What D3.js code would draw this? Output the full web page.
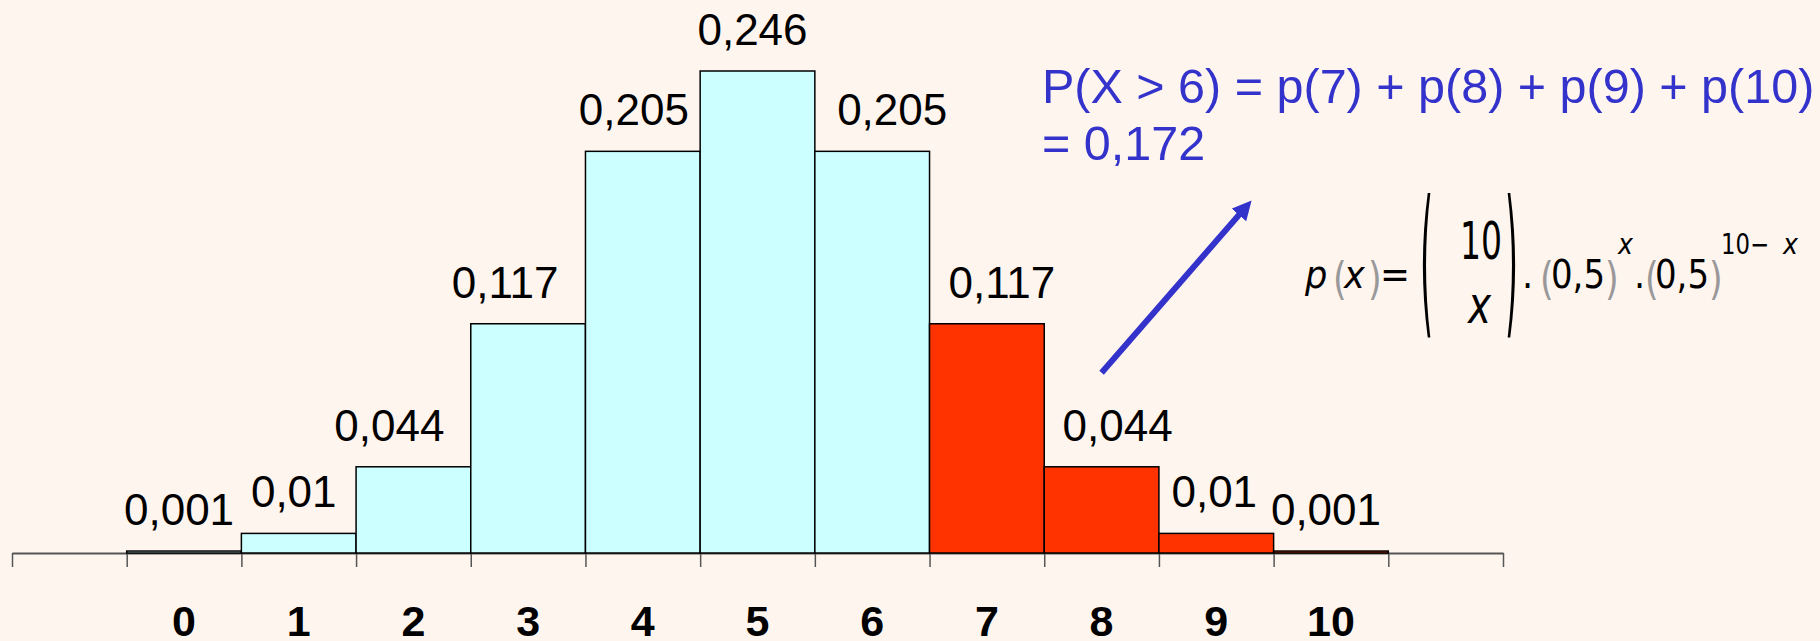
<!DOCTYPE html>
<html>
<head>
<meta charset="UTF-8">
<title>Binomial 10, 0.5</title>
<script src="https://d3js.org/d3.v7.min.js"></script>
<style>
  html, body { margin:0; padding:0; background:#fff5ef; }
  svg { display:block; }
  .val { font-family:"Liberation Sans", Arial, sans-serif; font-size:44px; fill:#000; }
  .cat { font-family:"Liberation Sans", Arial, sans-serif; font-size:43px; font-weight:bold; fill:#000; }
  .blue { font-family:"Liberation Sans", Arial, sans-serif; font-size:48.5px; fill:#3333cc; }
  .fm { font-family:"DejaVu Sans Condensed", "DejaVu Sans", sans-serif; fill:#000; }
  .it { font-style:italic; }
  .thin { fill:#999; }
</style>
</head>
<body>
<div id="chart"></div>
<script>
// data
const xs = [0,1,2,3,4,5,6,7,8,9,10];
const probs = [0.001,0.01,0.044,0.117,0.205,0.246,0.205,0.117,0.044,0.01,0.001];
const labels = ["0,001","0,01","0,044","0,117","0,205","0,246","0,205","0,117","0,044","0,01","0,001"];
const highlight = [7,8,9,10];   // P(X > 6)
const resultLines = ["P(X > 6) = p(7) + p(8) + p(9) + p(10)", "= 0,172"];

const W = 1820, H = 641;
const svg = d3.select('#chart').append('svg').attr('width',W).attr('height',H);

// one slot per value, plus an empty slot each side
const x = d3.scaleLinear().domain([-1,12]).range([12,1503]);
const y = d3.scaleLinear().domain([0,0.246]).range([553,71]);

const axis = d3.axisBottom(x)
  .tickValues(d3.range(-1,13))
  .tickFormat('')
  .tickSizeInner(14)
  .tickSizeOuter(0);

const gAxis = svg.append('g').attr('transform',`translate(0,${y(0)})`).call(axis);
gAxis.select('.domain').attr('stroke','#555').attr('stroke-width',2);
gAxis.selectAll('.tick line').attr('stroke','#555').attr('stroke-width',1.5);

svg.append('g').selectAll('rect')
  .data(xs)
  .enter().append('rect')
  .attr('x', d=>x(d))
  .attr('width', d=>x(d+1)-x(d))
  .attr('y', (d,i)=>y(probs[i]))
  .attr('height', (d,i)=>y(0)-y(probs[i]))
  .attr('fill', d=>highlight.includes(d) ? '#ff3300' : '#ccffff')
  .attr('stroke','#000')
  .attr('stroke-width',1.5);

// labels are not all centred on their bar in the original slide
const labelNudge = [-5,-5,-24,-23,-9,-5,20,15,16,-2,-5];
svg.append('g').selectAll('text')
  .data(xs)
  .enter().append('text')
  .attr('class','val')
  .attr('text-anchor','middle')
  .attr('x', (d,i)=>x(d+0.5)+labelNudge[i])
  .attr('y', (d,i)=>y(probs[i])-26)
  .text((d,i)=>labels[i]);

svg.append('g').selectAll('text')
  .data(xs)
  .enter().append('text')
  .attr('class','cat')
  .attr('text-anchor','middle')
  .attr('x', d=>x(d+0.5))
  .attr('y', 636)
  .text(d=>d);

// blue result text
svg.append('g').selectAll('text')
  .data(resultLines)
  .enter().append('text')
  .attr('class','blue')
  .attr('x',1042)
  .attr('y',(d,i)=>103+i*57)
  .text(d=>d);

// arrow
svg.append('defs').append('marker')
  .attr('id','head')
  .attr('viewBox','0 0 10 10')
  .attr('refX',2).attr('refY',5)
  .attr('markerWidth',3.2).attr('markerHeight',3.2)
  .attr('orient','auto')
  .append('path').attr('d','M0,0L10,5L0,10z').attr('fill','#3333cc');

svg.append('line')
  .attr('x1',x(8.5)).attr('y1',y(0.092))
  .attr('x2',x(9.72)).attr('y2',y(0.174))
  .attr('stroke','#3333cc')
  .attr('stroke-width',6)
  .attr('marker-end','url(#head)');

// formula p(x) = C(10,x) . 0,5^x . 0,5^(10-x)
const f = svg.append('g');
const base = 288, sup = 254;
function piece(t, px, py, size, cls, len){
  const el = f.append('text').attr('class','fm '+(cls||''))
    .attr('x',px).attr('y',py).style('font-size',size+'px').text(t);
  if(len) el.attr('textLength',len).attr('lengthAdjust','spacingAndGlyphs');
  return el;
}
function thinParen(t, px){
  f.append('text').attr('class','fm thin').style('font-size','39px')
    .attr('transform',`translate(${px},${base+6}) scale(1,1.15)`).text(t);
}
function bigParen(t, px){
  f.append('text').attr('class','fm').style('font-size','37px')
    .attr('transform',`translate(${px},316) scale(1,4.4)`).text(t);
}
piece('p',1305,base,39,'it');
thinParen('(',1333);
piece('x',1344,base,39,'it');
thinParen(')',1368);
piece('=',1380,base,39,'',30);
bigParen('(',1420);
piece('10',1460,259,52,'',42);
piece('x',1468,323,52,'it',23);
bigParen(')',1505);
piece('.',1522,base,39);
thinParen('(',1540);
piece('0,5',1551,base,39,'',54);
thinParen(')',1605);
piece('x',1618,sup,28,'it');
piece('.',1634,base,39);
thinParen('(',1645);
piece('0,5',1655,base,39,'',54);
thinParen(')',1709);
piece('10\u2212',1721,sup,28,'',48);
piece('x',1783,sup,28,'it');
</script>
</body>
</html>
